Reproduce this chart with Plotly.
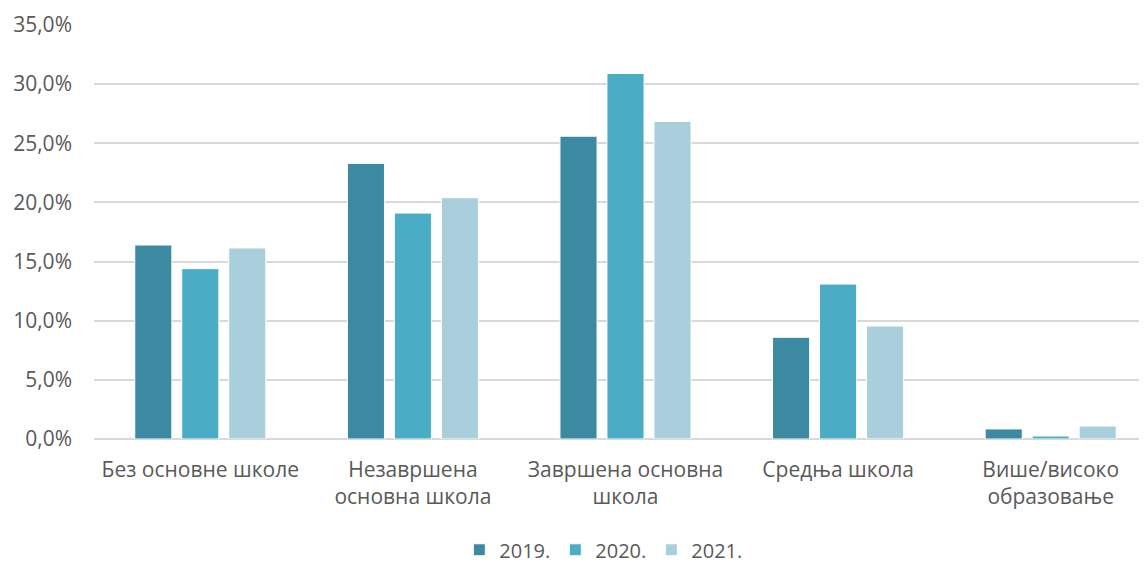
import plotly.graph_objects as go

categories = [
    'Без основне школе',
    'Незавршена<br>основна школа',
    'Завршена основна<br>школа',
    'Средња школа',
    'Више/високо<br>образовање',
]
values_2019 = [16.4, 23.3, 25.6, 8.6, 0.85]
values_2020 = [14.4, 19.1, 30.9, 13.1, 0.25]
values_2021 = [16.15, 20.4, 26.85, 9.55, 1.1]

tick_vals = [0, 5, 10, 15, 20, 25, 30, 35]
tick_text = ['0,0%', '5,0%', '10,0%', '15,0%', '20,0%', '25,0%', '30,0%', '35,0%']

series = [
    ('2019.', values_2019, '#3C8AA1'),
    ('2020.', values_2020, '#4BACC6'),
    ('2021.', values_2021, '#AACFDC'),
]

fig = go.Figure()
for name, vals, color in series:
    fig.add_trace(go.Bar(
        x=categories,
        y=vals,
        name=name,
        marker=dict(color=color, line=dict(color='white', width=1)),
    ))

# the page body has an 8px margin, so margins are shifted to compensate;
# the plot area runs a little past the right edge of the window
fig.update_layout(
    width=1165,
    height=562,
    barmode='group',
    bargap=0.337,
    bargroupgap=0.21,
    plot_bgcolor='white',
    paper_bgcolor='white',
    font=dict(family='Open Sans', size=21, color='#595959'),
    margin=dict(t=17, b=131, l=86, r=16, autoexpand=False),
    showlegend=True,
    legend=dict(
        orientation='h',
        xref='container',
        yref='container',
        yanchor='middle',
        y=0.036,
        xanchor='center',
        x=0.511,
        font=dict(size=20, color='#595959'),
    ),
    xaxis=dict(
        showgrid=False,
        showline=False,
        ticks='',
        ticklabelstandoff=16,
        tickfont=dict(size=21),
    ),
    yaxis=dict(
        range=[0, 35],
        tickvals=tick_vals,
        ticktext=tick_text,
        showgrid=True,
        gridcolor='#D9D9D9',
        gridwidth=1.5,
        zeroline=True,
        zerolinecolor='#D9D9D9',
        zerolinewidth=1.5,
        showline=False,
        ticks='',
        ticklabelstandoff=21,
        tickfont=dict(size=21),
    ),
)

fig.write_html("out.html")
